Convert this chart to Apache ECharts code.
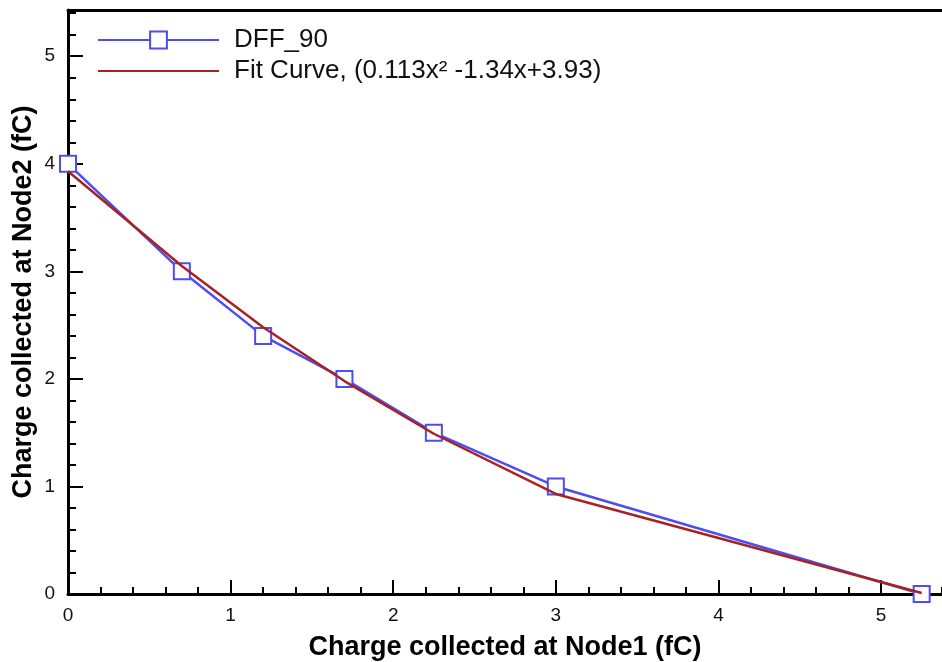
<!DOCTYPE html>
<html>
<head>
<meta charset="utf-8">
<script src="https://cdn.jsdelivr.net/npm/echarts@6/dist/echarts.min.js"></script>
<style>
  html, body { margin: 0; padding: 0; background: #fff; }
  #chart { width: 942px; height: 662px; }
</style>
</head>
<body>
<div id="chart"></div>
<script>
// values
const node1 = [0, 0.7, 1.2, 1.7, 2.25, 3, 5.25];
const dffNode2 = [4, 3, 2.4, 2, 1.5, 1, 0];
const fitNode2 = [3.93, 3.05, 2.48, 1.98, 1.49, 0.93, 0.01];
const seriesNames = ['DFF_90', 'Fit Curve, (0.113x² -1.34x+3.93)'];
const xTitle = 'Charge collected at Node1 (fC)';
const yTitle = 'Charge collected at Node2 (fC)';

const FONT = '"Liberation Sans", Arial, Helvetica, sans-serif';
const BLUE = '#4d4df0';
const RED = '#a82222';
const X_MAX = 5.375;
const Y_MAX = 5.43;

const pairs = (xs, ys) => xs.map((x, i) => [x, ys[i]]);
// both grids share the same box; keep ECharts from shrinking either one
const gridBox = { left: 68, top: 10, right: 0, bottom: 68, containLabel: false, outerBoundsMode: 'none' };
const axisLine = { show: true, lineStyle: { color: '#000', width: 3 } };
const intLabel = (v) => (Math.abs(v - Math.round(v)) < 1e-6 ? String(Math.round(v)) : '');

const chart = echarts.init(document.getElementById('chart'));

chart.setOption({
  backgroundColor: '#fff',
  animation: false,
  textStyle: { fontFamily: FONT },
  grid: [
    { ...gridBox },
    { ...gridBox }
  ],
  legend: {
    orient: 'vertical',
    left: 92,
    top: 22,
    itemWidth: 121,
    itemHeight: 21,
    itemGap: 5,
    textStyle: { fontFamily: FONT, fontSize: 26, color: '#111', padding: [0, 0, 0, 10] },
    data: [
      { name: seriesNames[0] },
      // fit curve has no marker, so hide the legend symbol
      { name: seriesNames[1], itemStyle: { opacity: 0 } }
    ]
  },
  xAxis: [
    {
      // short ticks every 0.2
      gridIndex: 0, type: 'value', position: 'bottom',
      min: 0, max: X_MAX, interval: 0.2,
      axisLine,
      axisTick: { show: true, inside: true, length: 7, lineStyle: { color: '#000', width: 2 } },
      axisLabel: { show: false },
      splitLine: { show: false }
    },
    {
      // major ticks, labels and title
      gridIndex: 1, type: 'value', position: 'bottom',
      min: 0, max: X_MAX, interval: 1,
      axisLine: { show: false },
      axisTick: { show: true, inside: true, length: 14, lineStyle: { color: '#000', width: 2 } },
      axisLabel: { formatter: intLabel, fontSize: 19, color: '#111', margin: 12, showMaxLabel: false },
      splitLine: { show: false },
      name: xTitle,
      nameLocation: 'middle',
      nameGap: 40,
      nameTextStyle: { fontSize: 27, fontWeight: 'bold', color: '#000' }
    },
    {
      // top frame line
      gridIndex: 1, type: 'value', position: 'top',
      min: 0, max: X_MAX,
      axisLine,
      axisTick: { show: false },
      axisLabel: { show: false },
      splitLine: { show: false }
    }
  ],
  yAxis: [
    {
      gridIndex: 0, type: 'value', position: 'left',
      min: 0, max: Y_MAX, interval: 0.2,
      axisLine,
      axisTick: { show: true, inside: true, length: 8, lineStyle: { color: '#000', width: 2 } },
      axisLabel: { show: false },
      splitLine: { show: false }
    },
    {
      gridIndex: 1, type: 'value', position: 'left',
      min: 0, max: Y_MAX, interval: 1,
      axisLine: { show: false },
      axisTick: { show: true, inside: true, length: 15, lineStyle: { color: '#000', width: 2 } },
      axisLabel: { formatter: intLabel, fontSize: 19, color: '#111', margin: 13, showMaxLabel: false },
      splitLine: { show: false },
      name: yTitle,
      nameLocation: 'middle',
      nameGap: 31,
      nameMoveOverlap: false,
      nameTextStyle: { fontSize: 27, fontWeight: 'bold', color: '#000' }
    }
  ],
  series: [
    {
      name: seriesNames[0],
      type: 'line',
      xAxisIndex: 0, yAxisIndex: 0,
      data: pairs(node1, dffNode2),
      symbol: 'emptyRect',
      symbolSize: 16,
      clip: false,
      z: 3,
      itemStyle: { color: BLUE, borderWidth: 2 },
      lineStyle: { color: BLUE, width: 2.5 }
    },
    {
      name: seriesNames[1],
      type: 'line',
      xAxisIndex: 0, yAxisIndex: 0,
      data: pairs(node1, fitNode2),
      symbol: 'none',
      z: 4,
      itemStyle: { color: RED },
      lineStyle: { color: RED, width: 2.5 }
    }
  ]
});
</script>
</body>
</html>
